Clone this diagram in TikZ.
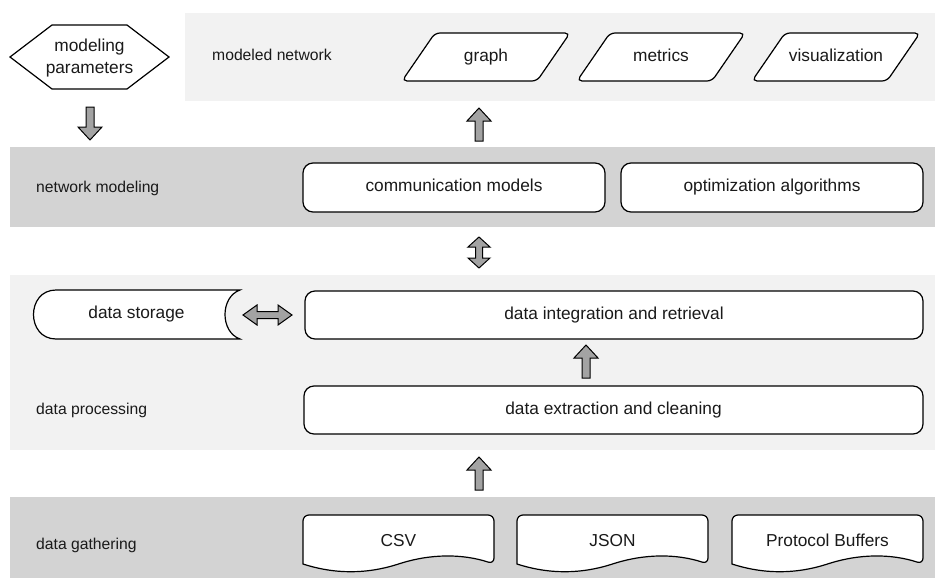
\documentclass[tikz,border=0pt]{standalone}
\usepackage{fontspec}
\setmainfont{Liberation Sans}
\definecolor{lightband}{HTML}{F2F2F2}
\definecolor{darkband}{HTML}{D3D3D3}
\definecolor{arrowgray}{HTML}{A3A3A3}
\definecolor{txt}{HTML}{1A1A1A}
\begin{document}
\begin{tikzpicture}[x=1pt,y=-1pt,
  bandfill/.style={fill=#1,draw=none},
  shp/.style={draw=black,line width=1.2pt,fill=white},
  lbl/.style={font=\fontsize{17.3}{22}\selectfont,text=txt,inner sep=0,text height=12.4,text depth=3.6},
  bandlbl/.style={font=\fontsize{15.7}{19}\selectfont,text=txt,inner sep=0,anchor=west,text height=11.3,text depth=3.3},
  box/.style={shp,rounded corners=10pt,lbl},
  blk/.style={draw=black,line width=1pt,fill=arrowgray,line join=miter},
  uparr/.pic={\draw[blk] (0,0) -- (12,13) -- (4,13) -- (4,33) -- (-4,33) -- (-4,13) -- (-12,13) -- cycle;},
  downarr/.pic={\draw[blk] (0,0) -- (12,-13) -- (4,-13) -- (4,-33) -- (-4,-33) -- (-4,-13) -- (-12,-13) -- cycle;},
  vdarr/.pic={\draw[blk] (0,0) -- (11,10) -- (3.5,10) -- (3.5,21) -- (11,21) -- (0,31) -- (-11,21) -- (-3.5,21) -- (-3.5,10) -- (-11,10) -- cycle;},
  hdarr/.pic={\draw[blk] (0,0) -- (14,-10) -- (14,-3.5) -- (35,-3.5) -- (35,-10) -- (49,0) -- (35,10) -- (35,3.5) -- (14,3.5) -- (14,10) -- cycle;},
  docshape/.pic={\draw[shp] (0,49) [rounded corners=6pt] -- (0,0) -- (191,0) -- (191,49) [sharp corners] .. controls (159.2,38.6) and (127.3,38.6) .. (95.5,49) .. controls (63.7,59.3) and (31.8,59.3) .. (0,49) -- cycle;},
]
\useasboundingbox (0,0) rectangle (935,578);

% bands
\fill[bandfill=lightband] (185,13) rectangle (935,101);
\fill[bandfill=darkband] (10,147) rectangle (935,227);
\fill[bandfill=lightband] (10,275) rectangle (935,450);
\fill[bandfill=darkband] (10,497) rectangle (935,578);

% band labels
\node[bandlbl] (lblmodeled) at (212,57) {modeled network};
\node[bandlbl] (lblmodeling) at (36,188) {network modeling};
\node[bandlbl] (lblprocessing) at (36,410) {data processing};
\node[bandlbl] (lblgathering) at (36,545) {data gathering};

% modeling parameters hexagon
\draw[shp] (10,57) -- (52,25) -- (127,25) -- (169,57) -- (127,89) -- (52,89) -- cycle;
\node[lbl,align=center,text height=,text depth=] (params) at (89.5,58) {modeling\\parameters};

% outputs (parallelograms)
\draw[shp,rounded corners=5pt] (402,81) -- (435,33) -- (570,33) -- (537,81) -- cycle;
\node[lbl] (graph) at (486,57) {graph};
\draw[shp,rounded corners=5pt] (577,81) -- (610,33) -- (745,33) -- (712,81) -- cycle;
\node[lbl] (metrics) at (661,57) {metrics};
\draw[shp,rounded corners=5pt] (752,81) -- (785,33) -- (920,33) -- (887,81) -- cycle;
\node[lbl] (vis) at (836,57) {visualization};

% network modeling
\node[box,minimum width=302,minimum height=49] (comm) at (454,187.5) {communication models};
\node[box,minimum width=302,minimum height=49] (opt) at (772,187.5) {optimization algorithms};

% data processing
\draw[shp] (56,290) -- (240,290) .. controls (220,297) and (220,332) .. (240,339) -- (56,339) .. controls (26,339) and (26,290) .. (56,290) -- cycle;
\node[lbl] (storage) at (136.5,314.5) {data storage};
\node[box,minimum width=618,minimum height=48] (integ) at (614,315) {data integration and retrieval};
\node[box,minimum width=619,minimum height=48] (extract) at (613.5,410) {data extraction and cleaning};

% data gathering
\pic at (303,515) {docshape};
\node[lbl] (csv) at (398.5,542) {CSV};
\pic at (517,515) {docshape};
\node[lbl] (json) at (612.5,542) {JSON};
\pic at (732,515) {docshape};
\node[lbl] (pb) at (827.5,542) {Protocol Buffers};

% block arrows
\pic at (90,140) {downarr};
\pic at (479,108) {uparr};
\pic at (479,237) {vdarr};
\pic at (243,315) {hdarr};
\pic at (586,345) {uparr};
\pic at (479,457) {uparr};
\end{tikzpicture}
\end{document}
